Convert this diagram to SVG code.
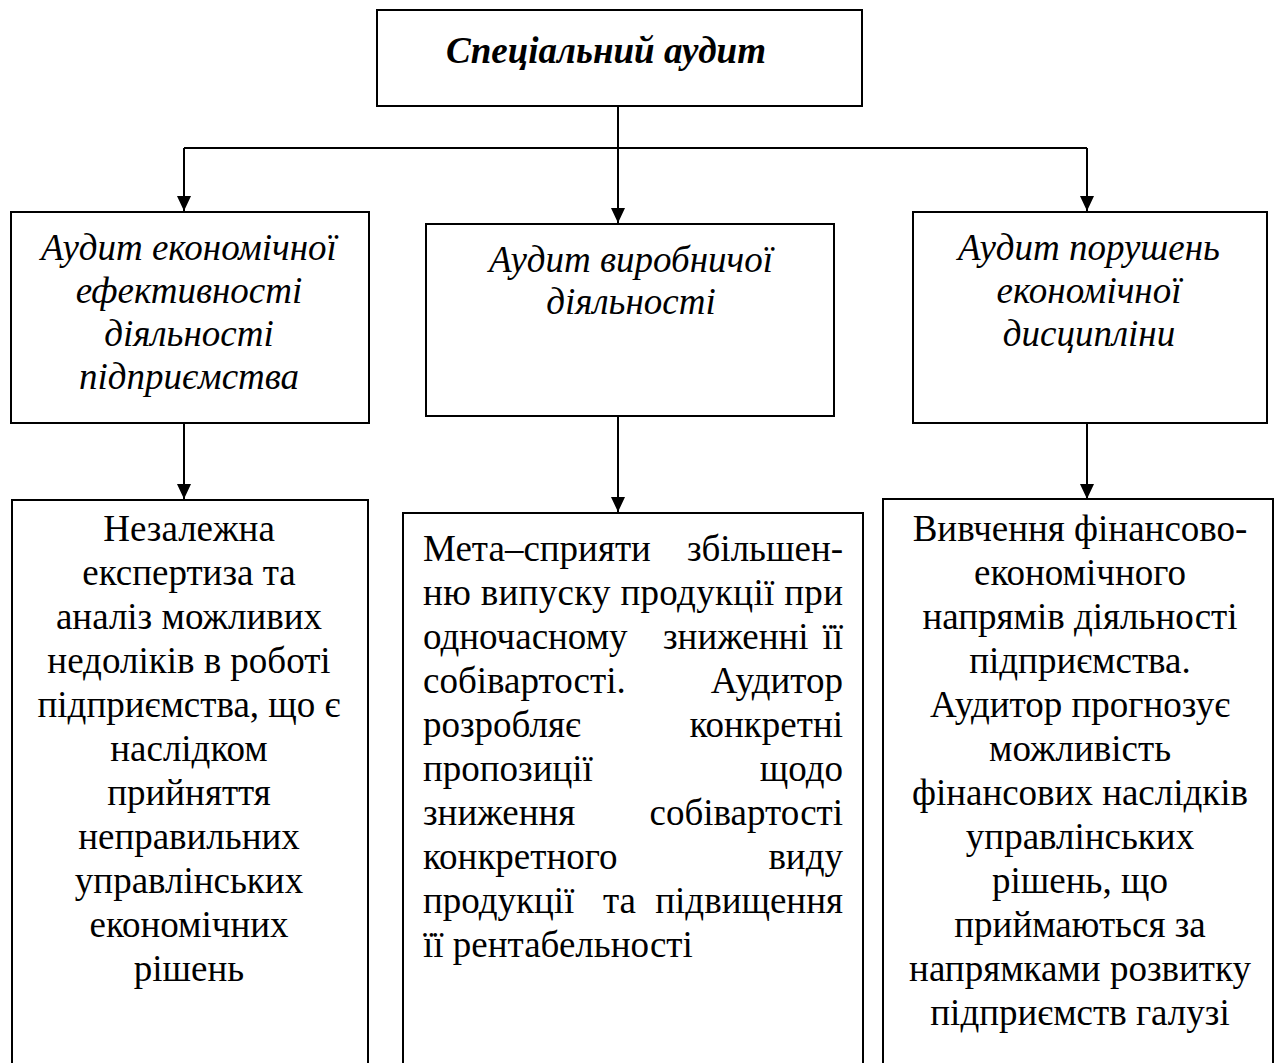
<svg xmlns="http://www.w3.org/2000/svg" width="1277" height="1063" viewBox="0 0 1277 1063">
<style>
.box{fill:#fff;stroke:#000;stroke-width:2}
.ln{fill:none;stroke:#000;stroke-width:2}
.t{font-family:"Liberation Serif","Times New Roman",serif;font-size:37px;fill:#000}
.i{font-style:italic}
.b{font-weight:bold;font-style:italic}
.c{text-anchor:middle}
.e{text-anchor:end}
</style>
<defs>
<marker id="a2" markerUnits="userSpaceOnUse" markerWidth="16" markerHeight="14" refX="15" refY="7" orient="auto">
<path d="M0,0 L15,7 L0,14 Z" fill="#000"/>
</marker>
</defs>
<g id="connectors">
<path class="ln" d="M618,106 V223" marker-end="url(#a2)"/>
<path class="ln" d="M184,148 H1087"/>
<path class="ln" d="M184,148 V211" marker-end="url(#a2)"/>
<path class="ln" d="M1087,148 V211" marker-end="url(#a2)"/>
<path class="ln" d="M184,423 V499" marker-end="url(#a2)"/>
<path class="ln" d="M618,416 V512" marker-end="url(#a2)"/>
<path class="ln" d="M1087,423 V499" marker-end="url(#a2)"/>
</g>
<g id="n-root">
<rect class="box" x="377" y="10" width="485" height="96"/>
<text class="t b c" x="606" y="63">Спеціальний аудит</text>
</g>
<g id="n-a1">
<rect class="box" x="11" y="212" width="358" height="211"/>
<text class="t i c" x="189"><tspan x="189" y="260">Аудит економічної</tspan><tspan x="189" y="303">ефективності</tspan><tspan x="189" y="346">діяльності</tspan><tspan x="189" y="389">підприємства</tspan></text>
</g>
<g id="n-a2">
<rect class="box" x="426" y="224" width="408" height="192"/>
<text class="t i c" x="631"><tspan x="631" y="272">Аудит виробничої</tspan><tspan x="631" y="314">діяльності</tspan></text>
</g>
<g id="n-a3">
<rect class="box" x="913" y="212" width="354" height="211"/>
<text class="t i c" x="1089"><tspan x="1089" y="260">Аудит порушень</tspan><tspan x="1089" y="303">економічної</tspan><tspan x="1089" y="346">дисципліни</tspan></text>
</g>
<g id="n-d1">
<path class="box" d="M12,1070 V500 H368 V1070"/>
<text class="t c" x="189"><tspan x="189" y="541">Незалежна</tspan><tspan x="189" y="585">експертиза та</tspan><tspan x="189" y="629">аналіз можливих</tspan><tspan x="189" y="673">недоліків в роботі</tspan><tspan x="189" y="717">підприємства, що є</tspan><tspan x="189" y="761">наслідком</tspan><tspan x="189" y="805">прийняття</tspan><tspan x="189" y="849">неправильних</tspan><tspan x="189" y="893">управлінських</tspan><tspan x="189" y="937">економічних</tspan><tspan x="189" y="981">рішень</tspan></text>
</g>
<g id="n-d2">
<path class="box" d="M403,1070 V513 H863 V1070"/>
<text class="t" x="423" y="561">Мета–сприяти</text><text class="t e" x="843" y="561">збільшен-</text>
<text class="t" x="423" y="605" textLength="420" lengthAdjust="spacing">ню випуску продукції при</text>
<text class="t" x="423" y="649">одночасному</text><text class="t" x="663" y="649">зниженні</text><text class="t e" x="843" y="649">її</text>
<text class="t" x="423" y="693">собівартості.</text><text class="t e" x="843" y="693">Аудитор</text>
<text class="t" x="423" y="737">розробляє</text><text class="t e" x="843" y="737">конкретні</text>
<text class="t" x="423" y="781">пропозиції</text><text class="t e" x="843" y="781">щодо</text>
<text class="t" x="423" y="825">зниження</text><text class="t e" x="843" y="825">собівартості</text>
<text class="t" x="423" y="869">конкретного</text><text class="t e" x="843" y="869">виду</text>
<text class="t" x="423" y="913">продукції</text><text class="t" x="603" y="913">та</text><text class="t e" x="843" y="913">підвищення</text>
<text class="t" x="423" y="957">її рентабельності</text>
</g>
<g id="n-d3">
<path class="box" d="M883,1070 V499 H1273 V1070"/>
<text class="t c" x="1080"><tspan x="1080" y="541">Вивчення фінансово-</tspan><tspan x="1080" y="585">економічного</tspan><tspan x="1080" y="629">напрямів діяльності</tspan><tspan x="1080" y="673">підприємства.</tspan><tspan x="1080" y="717">Аудитор прогнозує</tspan><tspan x="1080" y="761">можливість</tspan><tspan x="1080" y="805">фінансових наслідків</tspan><tspan x="1080" y="849">управлінських</tspan><tspan x="1080" y="893">рішень, що</tspan><tspan x="1080" y="937">приймаються за</tspan><tspan x="1080" y="981">напрямками розвитку</tspan><tspan x="1080" y="1025">підприємств галузі</tspan></text>
</g>
</svg>
